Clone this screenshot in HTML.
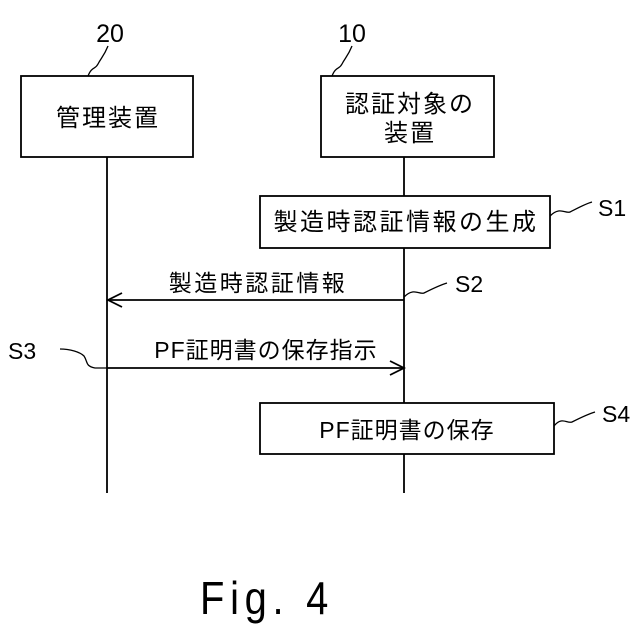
<!DOCTYPE html>
<html><head><meta charset="utf-8"><style>
html,body{margin:0;padding:0;background:#fff;}
svg{display:block;}
text{font-family:"Liberation Sans","Noto Sans CJK JP",sans-serif;fill:#000;}
</style></head><body>
<svg width="640" height="640" viewBox="0 0 640 640" xmlns="http://www.w3.org/2000/svg">
<g stroke="#000" stroke-width="1.8" fill="none">
<rect x="21" y="76" width="172" height="81"/>
<rect x="321" y="76" width="173" height="81"/>
<line x1="107" y1="157" x2="107" y2="493"/>
<line x1="404" y1="157" x2="404" y2="196"/>
<line x1="404" y1="248" x2="404" y2="403"/>
<line x1="404" y1="454" x2="404" y2="493"/>
<rect x="260" y="196" width="290" height="52" fill="#fff"/>
<rect x="260" y="403" width="294" height="51" fill="#fff"/>
<line x1="107" y1="300" x2="404" y2="300"/>
<polyline points="122,293 108,300 122,307"/>
<line x1="107" y1="368" x2="404" y2="368"/>
<polyline points="390,361 404,368 390,375"/>
</g>
<g stroke="#000" stroke-width="1.3" fill="none">
<path d="M88,76 C92,66 95,70 98,64 C101,58 104,56 108,46"/>
<path d="M332,76 C336,66 339,70 342,64 C345,58 348,56 352,46"/>
<path d="M550,216 C560,206 565,214 570,212 C578,208 585,204 592,202"/>
<path d="M404,297 C414,287 419,295 424,293 C432,289 440,285 447,283"/>
<path d="M60,349 C70,349 80,352 84,356 C88,362 85,366 95,368 L107,368"/>
<path d="M554,426 C562,416 567,424 572,422 C580,418 588,414 595,412"/>
</g>
<text x="110" y="42" font-size="25" text-anchor="middle">20</text>
<text x="352" y="42" font-size="25" text-anchor="middle">10</text>
<text x="108" y="126" font-size="24" letter-spacing="2" text-anchor="middle">管理装置</text>
<text x="410" y="112" font-size="24" letter-spacing="2" text-anchor="middle">認証対象の</text>
<text x="410" y="141" font-size="24" letter-spacing="2" text-anchor="middle">装置</text>
<text x="406" y="230" font-size="24" letter-spacing="2.5" text-anchor="middle">製造時認証情報の生成</text>
<text x="258" y="291" font-size="23" letter-spacing="2.5" text-anchor="middle">製造時認証情報</text>
<text x="266" y="358" font-size="23" letter-spacing="1" text-anchor="middle">PF証明書の保存指示</text>
<text x="407" y="438" font-size="23" letter-spacing="1" text-anchor="middle">PF証明書の保存</text>
<text x="598" y="216" font-size="23">S1</text>
<text x="455" y="292" font-size="23">S2</text>
<text x="8" y="359" font-size="23">S3</text>
<text x="602" y="422" font-size="23">S4</text>
<text x="267" y="614" font-size="42" text-anchor="middle" letter-spacing="6" font-family="Liberation Mono, monospace" transform="translate(267,614) scale(0.95,1.1) translate(-267,-614)">Fig. 4</text>
</svg>
</body></html>
